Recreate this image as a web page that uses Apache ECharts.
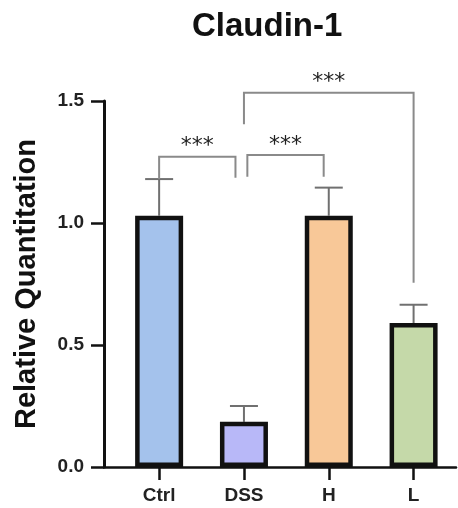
<!DOCTYPE html>
<html>
<head>
<meta charset="utf-8">
<script src="https://cdn.jsdelivr.net/npm/echarts@6/dist/echarts.min.js"></script>
<style>
  html, body { margin: 0; padding: 0; background: #fff; }
  #chart { width: 458px; height: 508px; }
</style>
</head>
<body>
<div id="chart"></div>
<script>
// groups and measured means / SD
var categories = ['Ctrl', 'DSS', 'H', 'L'];
var means = [1.03, 0.185, 1.03, 0.59];
var errors = [0.15, 0.065, 0.115, 0.075];
var barColors = ['#a4c2ec', '#b8b8f8', '#f8c898', '#c5d9a9'];
var yTicks = [0, 0.5, 1.0, 1.5];

// significance brackets: [xLeft, xRight, yTop, yLeftEnd, yRightEnd, label]
var brackets = [
    [0, 0.9, 1.272, 1.18, 1.185, '***'],
    [1.04, 1.94, 1.279, 1.19, 1.19, '***'],
    [1, 3, 1.534, 1.405, 0.755, '***']
];

var chart = echarts.init(document.getElementById('chart'));

var barData = means.map(function (v, i) {
    return {
        value: [i, v],
        itemStyle: { color: barColors[i] }
    };
});
var errData = means.map(function (v, i) {
    return [i, v, errors[i]];
});

var option = {
    backgroundColor: '#fff',
    animation: false,
    title: {
        text: 'Claudin-1',
        left: 187,
        top: 5,
        textStyle: {
            fontFamily: 'Liberation Sans',
            fontWeight: 'bold',
            fontSize: 33,
            color: '#111'
        }
    },
    grid: {
        left: 104,
        right: 2,
        top: 101,
        bottom: 41
    },
    xAxis: {
        type: 'value',
        min: -0.65,
        max: 3.5,
        splitLine: { show: false },
        axisLine: { show: true, lineStyle: { color: '#111', width: 2.5 } },
        axisTick: {
            show: true,
            customValues: [0, 1, 2, 3],
            length: 13,
            lineStyle: { color: '#111', width: 2.5 }
        },
        axisLabel: {
            customValues: [0, 1, 2, 3],
            margin: 19,
            fontFamily: 'Liberation Sans',
            fontWeight: 'bold',
            fontSize: 19,
            color: '#222',
            formatter: function (v) {
                return categories[Math.round(v)];
            }
        }
    },
    yAxis: {
        type: 'value',
        min: 0,
        max: 1.5,
        interval: 0.5,
        name: 'Relative Quantitation',
        nameLocation: 'middle',
        nameGap: 63,
        nameTextStyle: {
            fontFamily: 'Liberation Sans',
            fontWeight: 'bold',
            fontSize: 29,
            color: '#111'
        },
        splitLine: { show: false },
        axisLine: { show: true, onZero: false, lineStyle: { color: '#111', width: 3 } },
        axisTick: { show: true, length: 13, lineStyle: { color: '#111', width: 2.5 } },
        axisLabel: {
            margin: 20,
            fontFamily: 'Liberation Sans',
            fontWeight: 'bold',
            fontSize: 19,
            color: '#222',
            formatter: function (v) { return v.toFixed(1); }
        }
    },
    series: [
        {
            type: 'custom',
            name: 'sd',
            z: 1,
            renderItem: function (params, api) {
                var x = api.value(0);
                var base = api.coord([x, api.value(1)]);
                var top = api.coord([x, api.value(1) + api.value(2)]);
                var half = 14;
                var st = { stroke: '#707070', lineWidth: 2 };
                return {
                    type: 'group',
                    children: [
                        { type: 'line', shape: { x1: base[0], y1: base[1], x2: top[0], y2: top[1] }, style: st },
                        { type: 'line', shape: { x1: top[0] - half, y1: top[1], x2: top[0] + half, y2: top[1] }, style: st }
                    ]
                };
            },
            data: errData
        },
        {
            type: 'bar',
            name: 'mean',
            z: 2,
            barWidth: 48,
            itemStyle: { borderColor: '#111', borderWidth: 4.5 },
            data: barData
        },
        {
            type: 'custom',
            name: 'sig',
            z: 3,
            clip: false,
            renderItem: function (params, api) {
                var l = api.coord([api.value(0), api.value(2)]);
                var r = api.coord([api.value(1), api.value(2)]);
                var le = api.coord([api.value(0), api.value(3)]);
                var re = api.coord([api.value(1), api.value(4)]);
                var lbl = brackets[params.dataIndex][5];
                return {
                    type: 'group',
                    children: [
                        {
                            type: 'polyline',
                            shape: { points: [le, l, r, re] },
                            style: { stroke: '#8a8a8a', lineWidth: 2, fill: null }
                        },
                        {
                            type: 'text',
                            x: (l[0] + r[0]) / 2,
                            y: l[1] - 10,
                            style: {
                                text: lbl,
                                fontFamily: 'DejaVu Sans',
                                fontSize: 22,
                                fill: '#222',
                                align: 'center',
                                verticalAlign: 'middle'
                            }
                        }
                    ]
                };
            },
            data: brackets.map(function (b) { return b.slice(0, 5); })
        }
    ]
};

chart.setOption(option);
</script>
</body>
</html>
